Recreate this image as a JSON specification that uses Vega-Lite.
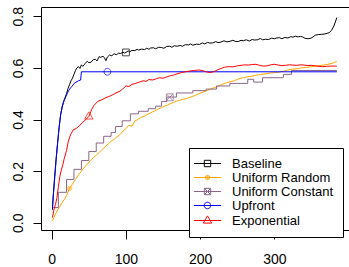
{
  "$schema": "https://vega.github.io/schema/vega-lite/v6.json",
  "width": 308,
  "height": 223,
  "autosize": {"type": "none"},
  "padding": {"left": 41, "top": 7, "right": 0, "bottom": 37},
  "background": "white",
  "config": {"view": {"stroke": null}, "axis": {"grid": false}},
  "datasets": {
    "curves": [
      {"series":"Baseline","x":1,"y":0.05},{"series":"Baseline","x":2,"y":0.1},{"series":"Baseline","x":4,"y":0.18},{"series":"Baseline","x":6,"y":0.25},{"series":"Baseline","x":8,"y":0.31},{"series":"Baseline","x":10,"y":0.37},{"series":"Baseline","x":12,"y":0.42},{"series":"Baseline","x":14,"y":0.445},{"series":"Baseline","x":16,"y":0.47},{"series":"Baseline","x":18,"y":0.485},{"series":"Baseline","x":20,"y":0.5},{"series":"Baseline","x":22,"y":0.52},{"series":"Baseline","x":24,"y":0.535},{"series":"Baseline","x":26,"y":0.55},{"series":"Baseline","x":28,"y":0.56},{"series":"Baseline","x":30,"y":0.575},{"series":"Baseline","x":32,"y":0.59},{"series":"Baseline","x":34,"y":0.6},{"series":"Baseline","x":36,"y":0.605},{"series":"Baseline","x":38,"y":0.598},{"series":"Baseline","x":40,"y":0.612},{"series":"Baseline","x":42,"y":0.606},{"series":"Baseline","x":45,"y":0.617},{"series":"Baseline","x":48,"y":0.626},{"series":"Baseline","x":50,"y":0.62},{"series":"Baseline","x":53,"y":0.622},{"series":"Baseline","x":56,"y":0.632},{"series":"Baseline","x":59,"y":0.633},{"series":"Baseline","x":61,"y":0.627},{"series":"Baseline","x":64,"y":0.644},{"series":"Baseline","x":66,"y":0.641},{"series":"Baseline","x":69,"y":0.645},{"series":"Baseline","x":71,"y":0.64},{"series":"Baseline","x":73,"y":0.628},{"series":"Baseline","x":75,"y":0.642},{"series":"Baseline","x":78,"y":0.65},{"series":"Baseline","x":81,"y":0.647},{"series":"Baseline","x":84,"y":0.655},{"series":"Baseline","x":87,"y":0.651},{"series":"Baseline","x":90,"y":0.657},{"series":"Baseline","x":93,"y":0.656},{"series":"Baseline","x":96,"y":0.661},{"series":"Baseline","x":98,"y":0.658},{"series":"Baseline","x":100,"y":0.66},{"series":"Baseline","x":103,"y":0.666},{"series":"Baseline","x":105,"y":0.662},{"series":"Baseline","x":108,"y":0.668},{"series":"Baseline","x":112,"y":0.667},{"series":"Baseline","x":115,"y":0.672},{"series":"Baseline","x":117,"y":0.669},{"series":"Baseline","x":121,"y":0.673},{"series":"Baseline","x":125,"y":0.671},{"series":"Baseline","x":128,"y":0.676},{"series":"Baseline","x":131,"y":0.672},{"series":"Baseline","x":133,"y":0.677},{"series":"Baseline","x":137,"y":0.678},{"series":"Baseline","x":140,"y":0.674},{"series":"Baseline","x":144,"y":0.68},{"series":"Baseline","x":148,"y":0.679},{"series":"Baseline","x":151,"y":0.676},{"series":"Baseline","x":155,"y":0.683},{"series":"Baseline","x":159,"y":0.684},{"series":"Baseline","x":162,"y":0.68},{"series":"Baseline","x":165,"y":0.686},{"series":"Baseline","x":169,"y":0.684},{"series":"Baseline","x":173,"y":0.687},{"series":"Baseline","x":176,"y":0.684},{"series":"Baseline","x":180,"y":0.69},{"series":"Baseline","x":184,"y":0.689},{"series":"Baseline","x":187,"y":0.693},{"series":"Baseline","x":190,"y":0.688},{"series":"Baseline","x":195,"y":0.692},{"series":"Baseline","x":199,"y":0.691},{"series":"Baseline","x":203,"y":0.697},{"series":"Baseline","x":206,"y":0.693},{"series":"Baseline","x":210,"y":0.699},{"series":"Baseline","x":213,"y":0.696},{"series":"Baseline","x":217,"y":0.697},{"series":"Baseline","x":221,"y":0.702},{"series":"Baseline","x":224,"y":0.698},{"series":"Baseline","x":228,"y":0.7},{"series":"Baseline","x":232,"y":0.705},{"series":"Baseline","x":236,"y":0.701},{"series":"Baseline","x":240,"y":0.703},{"series":"Baseline","x":244,"y":0.707},{"series":"Baseline","x":247,"y":0.703},{"series":"Baseline","x":251,"y":0.702},{"series":"Baseline","x":255,"y":0.707},{"series":"Baseline","x":258,"y":0.705},{"series":"Baseline","x":262,"y":0.709},{"series":"Baseline","x":266,"y":0.704},{"series":"Baseline","x":270,"y":0.71},{"series":"Baseline","x":273,"y":0.708},{"series":"Baseline","x":277,"y":0.709},{"series":"Baseline","x":281,"y":0.714},{"series":"Baseline","x":284,"y":0.709},{"series":"Baseline","x":288,"y":0.711},{"series":"Baseline","x":292,"y":0.71},{"series":"Baseline","x":296,"y":0.715},{"series":"Baseline","x":300,"y":0.713},{"series":"Baseline","x":303,"y":0.716},{"series":"Baseline","x":307,"y":0.717},{"series":"Baseline","x":310,"y":0.713},{"series":"Baseline","x":314,"y":0.718},{"series":"Baseline","x":318,"y":0.716},{"series":"Baseline","x":322,"y":0.721},{"series":"Baseline","x":325,"y":0.719},{"series":"Baseline","x":328,"y":0.723},{"series":"Baseline","x":332,"y":0.72},{"series":"Baseline","x":335,"y":0.722},{"series":"Baseline","x":338,"y":0.72},{"series":"Baseline","x":341,"y":0.715},{"series":"Baseline","x":345,"y":0.713},{"series":"Baseline","x":349,"y":0.715},{"series":"Baseline","x":352,"y":0.72},{"series":"Baseline","x":355,"y":0.727},{"series":"Baseline","x":359,"y":0.729},{"series":"Baseline","x":363,"y":0.73},{"series":"Baseline","x":367,"y":0.731},{"series":"Baseline","x":371,"y":0.734},{"series":"Baseline","x":374,"y":0.737},{"series":"Baseline","x":377,"y":0.746},{"series":"Baseline","x":380,"y":0.762},{"series":"Baseline","x":382,"y":0.778},{"series":"Baseline","x":384,"y":0.795},

      {"series":"Uniform Random","x":1,"y":0.007},{"series":"Uniform Random","x":3,"y":0.02},{"series":"Uniform Random","x":5,"y":0.033},{"series":"Uniform Random","x":8,"y":0.05},{"series":"Uniform Random","x":11,"y":0.063},{"series":"Uniform Random","x":14,"y":0.078},{"series":"Uniform Random","x":17,"y":0.09},{"series":"Uniform Random","x":20,"y":0.105},{"series":"Uniform Random","x":24,"y":0.133},{"series":"Uniform Random","x":28,"y":0.15},{"series":"Uniform Random","x":32,"y":0.168},{"series":"Uniform Random","x":36,"y":0.185},{"series":"Uniform Random","x":40,"y":0.2},{"series":"Uniform Random","x":44,"y":0.215},{"series":"Uniform Random","x":48,"y":0.228},{"series":"Uniform Random","x":52,"y":0.24},{"series":"Uniform Random","x":56,"y":0.252},{"series":"Uniform Random","x":60,"y":0.262},{"series":"Uniform Random","x":64,"y":0.272},{"series":"Uniform Random","x":68,"y":0.284},{"series":"Uniform Random","x":72,"y":0.295},{"series":"Uniform Random","x":76,"y":0.305},{"series":"Uniform Random","x":80,"y":0.316},{"series":"Uniform Random","x":84,"y":0.323},{"series":"Uniform Random","x":88,"y":0.333},{"series":"Uniform Random","x":92,"y":0.342},{"series":"Uniform Random","x":96,"y":0.355},{"series":"Uniform Random","x":100,"y":0.365},{"series":"Uniform Random","x":104,"y":0.378},{"series":"Uniform Random","x":108,"y":0.374},{"series":"Uniform Random","x":112,"y":0.394},{"series":"Uniform Random","x":116,"y":0.4},{"series":"Uniform Random","x":120,"y":0.408},{"series":"Uniform Random","x":124,"y":0.412},{"series":"Uniform Random","x":128,"y":0.418},{"series":"Uniform Random","x":133,"y":0.426},{"series":"Uniform Random","x":138,"y":0.432},{"series":"Uniform Random","x":143,"y":0.44},{"series":"Uniform Random","x":148,"y":0.446},{"series":"Uniform Random","x":152,"y":0.452},{"series":"Uniform Random","x":156,"y":0.456},{"series":"Uniform Random","x":160,"y":0.462},{"series":"Uniform Random","x":164,"y":0.466},{"series":"Uniform Random","x":168,"y":0.471},{"series":"Uniform Random","x":172,"y":0.474},{"series":"Uniform Random","x":176,"y":0.478},{"series":"Uniform Random","x":180,"y":0.48},{"series":"Uniform Random","x":186,"y":0.486},{"series":"Uniform Random","x":192,"y":0.492},{"series":"Uniform Random","x":198,"y":0.5},{"series":"Uniform Random","x":204,"y":0.507},{"series":"Uniform Random","x":210,"y":0.513},{"series":"Uniform Random","x":216,"y":0.52},{"series":"Uniform Random","x":222,"y":0.527},{"series":"Uniform Random","x":228,"y":0.534},{"series":"Uniform Random","x":234,"y":0.541},{"series":"Uniform Random","x":240,"y":0.546},{"series":"Uniform Random","x":246,"y":0.55},{"series":"Uniform Random","x":252,"y":0.558},{"series":"Uniform Random","x":258,"y":0.562},{"series":"Uniform Random","x":264,"y":0.566},{"series":"Uniform Random","x":270,"y":0.568},{"series":"Uniform Random","x":276,"y":0.572},{"series":"Uniform Random","x":282,"y":0.575},{"series":"Uniform Random","x":288,"y":0.577},{"series":"Uniform Random","x":294,"y":0.58},{"series":"Uniform Random","x":300,"y":0.582},{"series":"Uniform Random","x":306,"y":0.583},{"series":"Uniform Random","x":312,"y":0.587},{"series":"Uniform Random","x":318,"y":0.592},{"series":"Uniform Random","x":324,"y":0.595},{"series":"Uniform Random","x":330,"y":0.597},{"series":"Uniform Random","x":336,"y":0.6},{"series":"Uniform Random","x":342,"y":0.602},{"series":"Uniform Random","x":348,"y":0.604},{"series":"Uniform Random","x":354,"y":0.606},{"series":"Uniform Random","x":360,"y":0.609},{"series":"Uniform Random","x":366,"y":0.611},{"series":"Uniform Random","x":372,"y":0.614},{"series":"Uniform Random","x":378,"y":0.618},{"series":"Uniform Random","x":384,"y":0.625},

      {"series":"Uniform Constant","x":2,"y":0.059},{"series":"Uniform Constant","x":9,"y":0.118},{"series":"Uniform Constant","x":20,"y":0.168},{"series":"Uniform Constant","x":30,"y":0.207},{"series":"Uniform Constant","x":40,"y":0.241},{"series":"Uniform Constant","x":50,"y":0.276},{"series":"Uniform Constant","x":60,"y":0.309},{"series":"Uniform Constant","x":70,"y":0.335},{"series":"Uniform Constant","x":80,"y":0.35},{"series":"Uniform Constant","x":86,"y":0.373},{"series":"Uniform Constant","x":95,"y":0.395},{"series":"Uniform Constant","x":106,"y":0.422},{"series":"Uniform Constant","x":117,"y":0.432},{"series":"Uniform Constant","x":130,"y":0.442},{"series":"Uniform Constant","x":140,"y":0.452},{"series":"Uniform Constant","x":148,"y":0.47},{"series":"Uniform Constant","x":155,"y":0.487},{"series":"Uniform Constant","x":168,"y":0.503},{"series":"Uniform Constant","x":190,"y":0.512},{"series":"Uniform Constant","x":208,"y":0.518},{"series":"Uniform Constant","x":222,"y":0.53},{"series":"Uniform Constant","x":240,"y":0.54},{"series":"Uniform Constant","x":264,"y":0.556},{"series":"Uniform Constant","x":272,"y":0.545},{"series":"Uniform Constant","x":284,"y":0.562},{"series":"Uniform Constant","x":312,"y":0.575},{"series":"Uniform Constant","x":323,"y":0.59},{"series":"Uniform Constant","x":384,"y":0.59},

      {"series":"Upfront","x":1,"y":0.055},{"series":"Upfront","x":2,"y":0.1},{"series":"Upfront","x":4,"y":0.17},{"series":"Upfront","x":6,"y":0.245},{"series":"Upfront","x":8,"y":0.31},{"series":"Upfront","x":10,"y":0.37},{"series":"Upfront","x":12,"y":0.415},{"series":"Upfront","x":14,"y":0.45},{"series":"Upfront","x":17,"y":0.475},{"series":"Upfront","x":20,"y":0.495},{"series":"Upfront","x":23,"y":0.513},{"series":"Upfront","x":27,"y":0.528},{"series":"Upfront","x":31,"y":0.542},{"series":"Upfront","x":36,"y":0.55},{"series":"Upfront","x":39,"y":0.553},{"series":"Upfront","x":40,"y":0.585},{"series":"Upfront","x":384,"y":0.585},

      {"series":"Exponential","x":1,"y":0.02},{"series":"Exponential","x":3,"y":0.05},{"series":"Exponential","x":5,"y":0.07},{"series":"Exponential","x":7,"y":0.095},{"series":"Exponential","x":9,"y":0.14},{"series":"Exponential","x":11,"y":0.18},{"series":"Exponential","x":13,"y":0.205},{"series":"Exponential","x":15,"y":0.225},{"series":"Exponential","x":17,"y":0.25},{"series":"Exponential","x":20,"y":0.28},{"series":"Exponential","x":22,"y":0.31},{"series":"Exponential","x":24,"y":0.33},{"series":"Exponential","x":26,"y":0.345},{"series":"Exponential","x":29,"y":0.36},{"series":"Exponential","x":33,"y":0.365},{"series":"Exponential","x":37,"y":0.375},{"series":"Exponential","x":42,"y":0.39},{"series":"Exponential","x":46,"y":0.4},{"series":"Exponential","x":50,"y":0.412},{"series":"Exponential","x":54,"y":0.44},{"series":"Exponential","x":57,"y":0.455},{"series":"Exponential","x":62,"y":0.47},{"series":"Exponential","x":67,"y":0.476},{"series":"Exponential","x":73,"y":0.485},{"series":"Exponential","x":78,"y":0.49},{"series":"Exponential","x":83,"y":0.497},{"series":"Exponential","x":88,"y":0.505},{"series":"Exponential","x":92,"y":0.51},{"series":"Exponential","x":95,"y":0.517},{"series":"Exponential","x":100,"y":0.53},{"series":"Exponential","x":104,"y":0.528},{"series":"Exponential","x":108,"y":0.536},{"series":"Exponential","x":113,"y":0.54},{"series":"Exponential","x":118,"y":0.545},{"series":"Exponential","x":123,"y":0.55},{"series":"Exponential","x":127,"y":0.548},{"series":"Exponential","x":131,"y":0.555},{"series":"Exponential","x":136,"y":0.553},{"series":"Exponential","x":141,"y":0.558},{"series":"Exponential","x":145,"y":0.562},{"series":"Exponential","x":150,"y":0.56},{"series":"Exponential","x":155,"y":0.565},{"series":"Exponential","x":160,"y":0.57},{"series":"Exponential","x":165,"y":0.573},{"series":"Exponential","x":170,"y":0.578},{"series":"Exponential","x":175,"y":0.582},{"series":"Exponential","x":180,"y":0.585},{"series":"Exponential","x":186,"y":0.588},{"series":"Exponential","x":192,"y":0.59},{"series":"Exponential","x":198,"y":0.592},{"series":"Exponential","x":203,"y":0.59},{"series":"Exponential","x":208,"y":0.585},{"series":"Exponential","x":213,"y":0.582},{"series":"Exponential","x":218,"y":0.585},{"series":"Exponential","x":223,"y":0.592},{"series":"Exponential","x":228,"y":0.598},{"series":"Exponential","x":233,"y":0.603},{"series":"Exponential","x":239,"y":0.605},{"series":"Exponential","x":244,"y":0.604},{"series":"Exponential","x":250,"y":0.608},{"series":"Exponential","x":255,"y":0.61},{"series":"Exponential","x":260,"y":0.612},{"series":"Exponential","x":265,"y":0.611},{"series":"Exponential","x":270,"y":0.613},{"series":"Exponential","x":275,"y":0.614},{"series":"Exponential","x":280,"y":0.61},{"series":"Exponential","x":285,"y":0.607},{"series":"Exponential","x":290,"y":0.608},{"series":"Exponential","x":295,"y":0.612},{"series":"Exponential","x":300,"y":0.614},{"series":"Exponential","x":305,"y":0.611},{"series":"Exponential","x":310,"y":0.609},{"series":"Exponential","x":315,"y":0.61},{"series":"Exponential","x":320,"y":0.612},{"series":"Exponential","x":325,"y":0.611},{"series":"Exponential","x":330,"y":0.61},{"series":"Exponential","x":335,"y":0.612},{"series":"Exponential","x":340,"y":0.611},{"series":"Exponential","x":345,"y":0.609},{"series":"Exponential","x":350,"y":0.61},{"series":"Exponential","x":355,"y":0.608},{"series":"Exponential","x":360,"y":0.606},{"series":"Exponential","x":365,"y":0.605},{"series":"Exponential","x":370,"y":0.606},{"series":"Exponential","x":375,"y":0.607},{"series":"Exponential","x":380,"y":0.607},{"series":"Exponential","x":384,"y":0.607}
    ],
    "markers": [
      {"series":"Baseline","x":100,"y":0.66},
      {"series":"Uniform Random","x":24,"y":0.133},
      {"series":"Uniform Constant","x":159,"y":0.486},
      {"series":"Upfront","x":75,"y":0.585},
      {"series":"Exponential","x":50,"y":0.412}
    ]
  },
  "resolve": {"scale": {"color": "independent", "shape": "independent"}, "axis": {"x": "independent", "y": "independent"}},
  "layer": [
    {
      "data": {"name": "curves"},
      "transform": [{"filter": {"field": "series", "oneOf": ["Baseline", "Uniform Random"]}}],
      "mark": {"type": "line", "strokeWidth": 1},
      "encoding": {
        "x": {"field": "x", "type": "quantitative",
          "scale": {"domain": [-14.4, 400.4], "nice": false, "zero": false},
          "axis": {"orient": "bottom", "values": [0, 100, 200, 300], "title": null, "grid": false,
            "domain": true, "domainColor": "black", "domainWidth": 1,
            "tickSize": 9, "tickColor": "black", "tickWidth": 1,
            "labelFont": "Liberation Sans", "labelFontSize": 14, "labelColor": "black",
            "labelPadding": 13, "labelFlush": false, "labelOverlap": false}},
        "y": {"field": "y", "type": "quantitative",
          "scale": {"domain": [-0.028, 0.836], "nice": false, "zero": false},
          "axis": {"orient": "left", "values": [0, 0.2, 0.4, 0.6, 0.8], "format": ".1f", "title": null, "grid": false,
            "domain": true, "domainColor": "black", "domainWidth": 1,
            "tickSize": 8, "tickColor": "black", "tickWidth": 1,
            "labelAngle": 270, "labelAlign": "center", "labelBaseline": "alphabetic",
            "labelFont": "Liberation Sans", "labelFontSize": 14, "labelColor": "black",
            "labelPadding": 11, "labelFlush": false, "labelOverlap": false}},
        "color": {"field": "series", "type": "nominal",
          "scale": {"domain": ["Baseline", "Uniform Random", "Uniform Constant", "Upfront", "Exponential"],
                    "range": ["#000000", "#FFA500", "#8B668B", "#0000FF", "#FF0000"]},
          "legend": null}
      }
    },
    {
      "data": {"name": "curves"},
      "transform": [{"filter": {"field": "series", "equal": "Uniform Constant"}}],
      "mark": {"type": "line", "strokeWidth": 1, "interpolate": "step-after"},
      "encoding": {
        "x": {"field": "x", "type": "quantitative", "axis": null},
        "y": {"field": "y", "type": "quantitative", "axis": null},
        "color": {"field": "series", "type": "nominal",
          "scale": {"domain": ["Baseline", "Uniform Random", "Uniform Constant", "Upfront", "Exponential"],
                    "range": ["#000000", "#FFA500", "#8B668B", "#0000FF", "#FF0000"]},
          "legend": null}
      }
    },
    {
      "data": {"name": "curves"},
      "transform": [{"filter": {"field": "series", "oneOf": ["Upfront", "Exponential"]}}],
      "mark": {"type": "line", "strokeWidth": 1},
      "encoding": {
        "x": {"field": "x", "type": "quantitative", "axis": null},
        "y": {"field": "y", "type": "quantitative", "axis": null},
        "color": {"field": "series", "type": "nominal",
          "scale": {"domain": ["Baseline", "Uniform Random", "Uniform Constant", "Upfront", "Exponential"],
                    "range": ["#000000", "#FFA500", "#8B668B", "#0000FF", "#FF0000"]},
          "legend": null}
      }
    },
    {
      "data": {"name": "markers"},
      "mark": {"type": "point", "filled": false, "strokeWidth": 1, "size": 64},
      "encoding": {
        "x": {"field": "x", "type": "quantitative", "axis": null},
        "y": {"field": "y", "type": "quantitative", "axis": null},
        "color": {"field": "series", "type": "nominal",
          "scale": {"domain": ["Baseline", "Uniform Random", "Uniform Constant", "Upfront", "Exponential"],
                    "range": ["#000000", "#FFA500", "#8B668B", "#0000FF", "#FF0000"]},
          "legend": null},
        "shape": {"field": "series", "type": "nominal",
          "scale": {"domain": ["Baseline", "Uniform Random", "Uniform Constant", "Upfront", "Exponential"],
                    "range": [
                      "M-0.85,-0.85H0.85V0.85H-0.85Z",
                      "M0.55,0A0.55,0.55,0,1,1,-0.55,0A0.55,0.55,0,1,1,0.55,0ZM0.3,0A0.3,0.3,0,1,1,-0.3,0A0.3,0.3,0,1,1,0.3,0ZM0.08,0A0.08,0.08,0,1,1,-0.08,0A0.08,0.08,0,1,1,0.08,0Z",
                      "M-0.85,-0.85H0.85V0.85H-0.85ZM-0.85,-0.85L0.85,0.85M-0.85,0.85L0.85,-0.85",
                      "M0.85,0A0.85,0.85,0,1,1,-0.85,0A0.85,0.85,0,1,1,0.85,0Z",
                      "M0,-1.15L1.05,0.65H-1.05Z"
                    ]},
          "legend": null}
      }
    },
    {
      "data": {"name": "markers"},
      "mark": {"type": "point", "filled": false, "strokeWidth": 1, "size": 64, "opacity": 0},
      "encoding": {
        "x": {"field": "x", "type": "quantitative",
          "axis": {"orient": "top", "domain": true, "domainColor": "black", "domainWidth": 1,
                   "ticks": false, "labels": false, "grid": false, "title": null}},
        "y": {"field": "y", "type": "quantitative", "axis": null},
        "color": {"field": "series", "type": "nominal",
          "scale": {"domain": ["Baseline", "Uniform Random", "Uniform Constant", "Upfront", "Exponential"],
                    "range": ["#000000", "#FFA500", "#8B668B", "#0000FF", "#FF0000"]},
          "legend": {"orient": "none", "legendX": 148, "legendY": 141, "title": null,
            "labelFont": "Liberation Sans", "labelFontSize": 13, "labelColor": "black",
            "symbolSize": 64, "symbolStrokeWidth": 1, "symbolOffset": 3, "labelOffset": 18,
            "symbolOpacity": 1, "symbolFillColor": "transparent",
            "padding": 9, "rowPadding": 0, "strokeColor": "black", "fillColor": "white"}},
        "shape": {"field": "series", "type": "nominal",
          "scale": {"domain": ["Baseline", "Uniform Random", "Uniform Constant", "Upfront", "Exponential"],
                    "range": [
                      "M-3.4,0H3.4M-0.8,-0.8H0.8V0.8H-0.8Z",
                      "M-3.4,0H3.4M0.55,0A0.55,0.55,0,1,1,-0.55,0A0.55,0.55,0,1,1,0.55,0ZM0.3,0A0.3,0.3,0,1,1,-0.3,0A0.3,0.3,0,1,1,0.3,0ZM0.08,0A0.08,0.08,0,1,1,-0.08,0A0.08,0.08,0,1,1,0.08,0Z",
                      "M-3.4,0H3.4M-0.8,-0.8H0.8V0.8H-0.8ZM-0.8,-0.8L0.8,0.8M-0.8,0.8L0.8,-0.8",
                      "M-3.4,0H3.4M0.82,0A0.82,0.82,0,1,1,-0.82,0A0.82,0.82,0,1,1,0.82,0Z",
                      "M-3.4,0H3.4M0,-1.15L1.05,0.65H-1.05Z"
                    ]},
          "legend": {"orient": "none", "legendX": 148, "legendY": 141, "title": null,
            "labelFont": "Liberation Sans", "labelFontSize": 13, "labelColor": "black",
            "symbolSize": 64, "symbolStrokeWidth": 1, "symbolOffset": 3, "labelOffset": 18,
            "symbolOpacity": 1, "symbolFillColor": "transparent",
            "padding": 9, "rowPadding": 0, "strokeColor": "black", "fillColor": "white"}}
      }
    }
  ]
}
